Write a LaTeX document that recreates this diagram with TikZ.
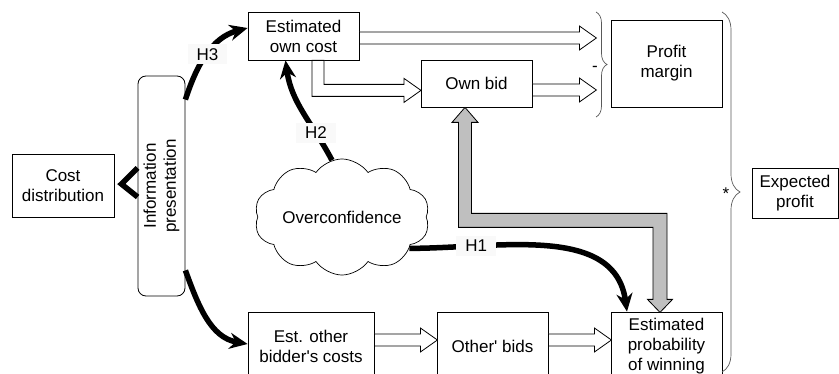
\documentclass[tikz,border=0pt]{standalone}
\usepackage{fontspec}
\setmainfont{Liberation Sans}[Ligatures=TeXOff]
\usetikzlibrary{arrows.meta,decorations.pathreplacing,shapes.symbols}

\begin{document}
\begin{tikzpicture}[x=1pt,y=-1pt,
    every node/.style={font=\fontsize{17}{20}\selectfont},
    box/.style={draw, line width=0.8pt, inner sep=0pt, align=center},
    hollow/.style={draw, fill=white, line width=0.8pt, line join=miter},
    grayarrow/.style={draw, fill=gray!50, line width=0.8pt},
    hyp/.style={line width=5.5pt, -{Stealth[length=18pt,width=16pt]}},
    hlabel/.style={fill=gray!5, inner xsep=9pt, inner ysep=4pt},
    curly/.style={draw=gray!70!black, line width=0.7pt, decorate}]
      \useasboundingbox (0,0) rectangle (839,374);
      \node[box, minimum width=102pt, minimum height=63pt] (cost) at (63,185.5) {Cost\\distribution};
      \node[box, rounded corners=8pt, minimum width=47pt, minimum height=220pt] (info) at (161.5,186) {};
      \node[rotate=90, align=center] (infotext) at (info) {Information\\presentation};
      \node[box, minimum width=111pt, minimum height=48pt] (estcost) at (303.5,36) {Estimated\\own cost};
      \node[box, minimum width=111pt, minimum height=47pt] (ownbid) at (476.5,83.5) {Own bid};
      \node[box, minimum width=111pt, minimum height=87pt] (margin) at (666.5,63.5) {Profit\\margin};
      \node[box, minimum width=86pt, minimum height=50pt] (expprofit) at (795,193) {Expected\\profit};
      \node[box, minimum width=126pt, minimum height=68pt] (othercost) at (311,346) {Est. other\\bidder's costs};
      \node[box, minimum width=111pt, minimum height=68pt] (otherbids) at (492.5,346) {Other' bids};
      \node[box, minimum width=111pt, minimum height=68pt] (prob) at (666.5,346) {Estimated\\probability\\of winning};
      \node[cloud, draw, line width=0.7pt, cloud puffs=10, cloud puff arc=110, aspect=1.8,
        minimum width=158pt, minimum height=86pt, inner sep=0pt] (overconf) at (342,217) {Overconfidence};
      % braces
      \coordinate (mtop) at (596,12);
      \coordinate (mbot) at (596,117);
      \coordinate (ptop) at (722,12);
      \coordinate (pbot) at (722,372);
      \draw[curly, decoration={brace, amplitude=11pt}] (mtop) -- (mbot);
      \draw[curly, decoration={brace, amplitude=18pt}] (ptop) -- (pbot);
      \node (minus) at (595,69) {-};
      \node (times) at (726,194) {*};
      % white arrows
      \draw[hollow] ([yshift=4pt]estcost.east) -- ++(220,0) -- ++(0,-6) -- ++(17,12) -- ++(-17,12) -- ++(0,-6) -- ++(-220,0) -- cycle;
      \draw[hollow] ([xshift=8.5pt]estcost.south) -- ++(0,36) -- ++(92,0) -- ++(0,6) -- ++(17,-12) -- ++(-17,-12) -- ++(0,6) -- ++(-80,0) -- ++(0,-24) -- cycle;
      \draw[hollow] ([yshift=-0.5pt]ownbid.east) -- ++(47,0) -- ++(0,-6) -- ++(17,12) -- ++(-17,12) -- ++(0,-6) -- ++(-47,0) -- cycle;
      \draw[hollow] ([yshift=12pt]othercost.east) -- ++(46,0) -- ++(0,-6) -- ++(17,12) -- ++(-17,12) -- ++(0,-6) -- ++(-46,0) -- cycle;
      \draw[hollow] ([yshift=12pt]otherbids.east) -- ++(46,0) -- ++(0,-6) -- ++(17,12) -- ++(-17,12) -- ++(0,-6) -- ++(-46,0) -- cycle;
      % gray arrow
      \draw[grayarrow] ([xshift=-11.5pt]ownbid.south) -- ++(13,15) -- ++(-6.5,0) -- ++(0,91) -- ++(195.5,0) -- ++(0,86) -- ++(5.5,0) -- ++(-12.5,13) -- ++(-12.5,-13) -- ++(5.5,0) -- ++(0,-72) -- ++(-194.5,0) -- ++(0,-105) -- ++(-6.5,0) -- cycle;
      % hypotheses
      \draw[line width=5.5pt, line join=miter] ([yshift=18pt]info.west) -- ([xshift=7pt,yshift=1.5pt]cost.east) -- ([yshift=-11pt]info.west);
      \draw[hyp] ([yshift=-24pt]info.north east) to[out=72,in=195] node[hlabel, pos=0.5] {H3} ([yshift=8pt]estcost.west);
      \draw[hyp] ([yshift=26pt]info.south east) to[out=-70,in=170] ([yshift=2pt]othercost.west);
      \draw[hyp] (overconf.100) to[out=118,in=-82] node[hlabel, pos=0.27] {H2} ([xshift=-18pt]estcost.south);
      \draw[hyp] (overconf.-25) to[out=0,in=98] node[hlabel, pos=0.24] {H1} ([xshift=-39.5pt]prob.north);
    \end{tikzpicture}
\end{document}
